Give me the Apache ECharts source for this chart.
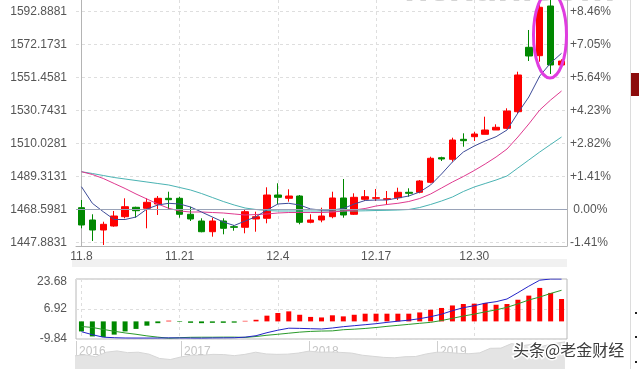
<!DOCTYPE html>
<html><head><meta charset="utf-8">
<script src="https://cdn.jsdelivr.net/npm/echarts@6/dist/echarts.min.js"></script>
<style>html,body{margin:0;padding:0;background:#fff}#c{width:639px;height:369px}</style>
</head><body><div id="c"></div>
<script>
const dates = ['11.8','11.11','11.12','11.13','11.14','11.15','11.18','11.19','11.20','11.21','11.22','11.25','11.26','11.27','11.28','11.29','12.2','12.3','12.4','12.5','12.6','12.9','12.10','12.11','12.12','12.13','12.16','12.17','12.18','12.19','12.20','12.23','12.24','12.25','12.26','12.27','12.30','12.31','1.1','1.2','1.3','1.6','1.7','1.8','1.9'];
// [open, close, low, high]
const candles = [
[1469.85,1458.99,1456.92,1474.68],[1462.13,1455.85,1448.95,1465.71],[1455.85,1459.43,1446.44,1461.06],
[1458.36,1464.64,1457.92,1467.78],[1464.20,1470.48,1463.20,1475.75],[1470.10,1467.97,1463.57,1470.48],
[1469.47,1473.24,1456.92,1475.75],[1472.17,1475.75,1465.27,1477.19],[1475.75,1474.87,1468.41,1479.89],
[1475.75,1465.71,1463.57,1476.75],[1465.71,1462.76,1461.50,1470.48],[1461.50,1454.78,1454.41,1463.20],
[1454.78,1461.50,1451.65,1463.57],[1461.50,1456.92,1453.15,1463.20],[1457.92,1457.55,1455.41,1458.99],
[1457.55,1467.34,1453.78,1468.41],[1462.76,1464.20,1454.78,1467.34],[1463.20,1477.82,1460.06,1482.65],
[1477.82,1476.38,1471.98,1485.17],[1475.75,1477.19,1473.62,1481.40],[1477.19,1460.69,1459.43,1477.82],
[1460.69,1462.13,1460.06,1465.71],[1462.13,1464.64,1460.69,1469.85],[1464.20,1475.94,1463.20,1479.89],
[1475.94,1465.27,1463.57,1487.86],[1465.71,1476.38,1465.27,1478.89],[1475.12,1476.75,1474.06,1480.96],
[1475.75,1476.13,1474.06,1481.59],[1475.12,1475.50,1471.54,1480.33],[1476.13,1479.52,1474.68,1482.40],
[1479.52,1478.89,1476.75,1482.03],[1479.52,1486.61,1478.89,1487.24],[1485.79,1500.86,1485.17,1501.86],
[1501.23,1500.42,1499.16,1501.86],[1500.23,1512.34,1498.72,1513.79],[1512.78,1511.91,1508.14,1516.55],
[1514.42,1516.11,1511.72,1517.55],[1515.92,1518.62,1515.92,1526.97],[1518.62,1520.32,1518.62,1522.20],
[1519.69,1530.55,1519.25,1532.24],[1530.11,1553.15,1529.10,1555.22],[1570.53,1565.07,1561.93,1581.39],
[1565.26,1595.64,1561.49,1607.76],[1596.46,1559.42,1553.77,1611.00],[1559.42,1561.93,1558.36,1563.00]
];
const ma5 = [1483.03,1472.61,1467.34,1462.44,1462.44,1464.01,1469.03,1471.54,1472.61,1472.17,1470.29,1467.15,1464.01,1460.87,1458.67,1461.50,1464.20,1468.40,1472.17,1472.61,1471.54,1469.03,1468.40,1468.40,1469.35,1472.17,1474.37,1474.68,1474.68,1475.94,1477.19,1479.70,1484.10,1491.00,1498.53,1504.81,1508.58,1511.71,1514.41,1518.62,1529.29,1539.33,1552.51,1560.67,1566.76];
const ma10 = [1492.44,1490.69,1488.18,1485.04,1481.90,1478.45,1475.31,1472.17,1469.47,1467.78,1467.15,1467.15,1466.83,1466.52,1465.89,1465.26,1465.58,1465.89,1466.52,1466.83,1466.83,1466.83,1466.83,1467.15,1467.78,1468.40,1469.35,1470.91,1471.86,1472.61,1473.74,1475.62,1478.45,1482.21,1485.98,1489.43,1493.20,1497.28,1501.67,1506.69,1514.22,1522.39,1531.17,1537.45,1543.10];
const ma20 = [1492.44,1491.31,1490.06,1488.80,1487.86,1486.92,1485.98,1485.04,1484.10,1482.53,1480.96,1478.76,1476.25,1473.74,1471.54,1469.66,1468.72,1468.09,1467.78,1467.78,1467.78,1467.78,1467.78,1467.78,1467.78,1467.78,1467.90,1468.09,1468.21,1468.40,1468.72,1469.97,1471.86,1474.05,1476.56,1480.01,1482.84,1485.04,1487.23,1489.75,1494.77,1499.79,1504.81,1509.52,1514.22];
const macdBar = [-5.6,-8.4,-8.7,-7.4,-5.6,-4.2,-2.4,-1.0,0.4,-0.3,-0.8,-1.0,-0.8,-0.8,-0.7,0.3,0.9,3.2,4.7,5.6,3.7,2.5,2.2,3.4,2.8,3.7,4.3,4.3,4.3,4.3,4.3,5.0,6.5,7.5,8.9,9.7,9.9,10.3,9.3,9.7,12.1,14.4,18.7,15.9,12.5];
const dif = [-5.76,-7.43,-8.83,-9.11,-9.28,-9.3,-9.3,-9.3,-9.2,-9.25,-9.3,-9.35,-9.25,-9.2,-9.15,-8.8,-8.0,-6.32,-4.92,-3.80,-3.91,-4.08,-4.25,-3.69,-2.96,-2.41,-1.85,-1.29,-0.56,0.11,0.67,1.51,2.62,4.02,5.97,7.65,8.77,10.16,11.00,12.51,16.03,19.66,23.01,23.68,23.68];
const dea = [-2.85,-3.4,-4.5,-5.5,-6.45,-7.2,-8.1,-8.8,-9.4,-9.1,-8.9,-8.85,-8.85,-8.8,-8.8,-8.95,-8.45,-7.75,-7.2,-6.6,-6.0,-5.6,-5.4,-5.3,-4.65,-4.35,-3.95,-3.42,-2.78,-2.22,-1.66,-1.08,-0.54,0.47,1.71,3.0,4.06,5.3,6.44,7.85,9.8,11.95,13.6,15.6,17.38];
const priceTicks = [1447.8831,1468.5981,1489.3131,1510.0281,1530.7431,1551.4581,1572.1731,1592.8881];
const pctLabels = ['-1.41%',' 0.00%','+1.41%','+2.82%','+4.23%','+5.64%','+7.05%','+8.46%'];
const macdTicks = [-9.84, 6.92, 23.68];
const baseLine = 1468.5981;
const dateGridIdx = [0, 9, 18, 27, 36];
const histMonths = ['2016-03','2016-04','2016-05','2016-06','2016-07','2016-08','2016-09','2016-10','2016-11','2016-12',
'2017-01','2017-02','2017-03','2017-04','2017-05','2017-06','2017-07','2017-08','2017-09','2017-10','2017-11','2017-12',
'2018-01','2018-02','2018-03','2018-04','2018-05','2018-06','2018-07','2018-08','2018-09','2018-10','2018-11','2018-12',
'2019-01','2019-02','2019-03','2019-04','2019-05','2019-06','2019-07','2019-08','2019-09','2019-10','2019-11','2019-12','2020-01'];
const histValues = [1235,1260,1215,1320,1350,1310,1320,1275,1175,1150,1210,1250,1250,1270,1265,1240,1270,1320,1280,1270,1275,1300,1345,1320,1325,1315,1300,1250,1225,1200,1190,1215,1220,1280,1320,1315,1295,1285,1305,1410,1415,1520,1470,1510,1465,1520,1560];
const yearTicks = [2016.18, 2017, 2018, 2019];

const FONT = 'Liberation Sans, Arial, sans-serif';
const dashed = {show:true, lineStyle:{color:'#dedede', type:[3,3], width:1}};
const histData = histMonths.map((m,i)=>{const [y,mo]=m.split('-').map(Number); return [y+(mo-1)/12, histValues[i]];});
const PMIN = 1445.81, PMAX = 1600.22;

const chart = echarts.init(document.getElementById('c'), null, {renderer:'canvas'});
chart.setOption({
  animation:false,
  backgroundColor:'#fff',
  textStyle:{fontFamily:FONT},
  grid:[
    {left:76, width:491, top:0, height:246},
    {left:76, width:491, top:279, height:60, show:true, borderColor:'#b8b8b8', borderWidth:1},
    {left:76, width:491, top:341, height:28}
  ],
  xAxis:[
    {type:'category', gridIndex:0, data:dates, boundaryGap:true,
     axisLine:{lineStyle:{color:'#b4b4b4'}}, axisTick:{show:false},
     axisLabel:{interval:8, color:'#555', fontSize:12, margin:5, fontFamily:FONT}, splitLine:{show:false}},
    {type:'value', gridIndex:0, min:-0.5, max:44.5, show:true, axisLine:{show:false}, axisLabel:{show:false},
     axisTick:{show:false, customValues:dateGridIdx}, splitLine:dashed},
    {type:'category', gridIndex:1, data:dates, boundaryGap:true, axisLine:{show:false}, axisTick:{show:false},
     axisLabel:{show:false}, splitLine:{show:false}},
    {type:'value', gridIndex:1, min:-0.5, max:44.5, axisLine:{show:false}, axisLabel:{show:false},
     axisTick:{show:false, customValues:dateGridIdx}, splitLine:dashed},
    {type:'value', gridIndex:2, min:2016.18, max:2020.016, position:'top',
     axisLine:{show:false}, axisTick:{show:false, customValues:yearTicks},
     axisLabel:{inside:true, customValues:yearTicks, formatter:v=>String(Math.floor(v)), color:'#c4c4c4', fontSize:12, align:'left', padding:[0,0,0,3], margin:5, fontFamily:FONT},
     splitLine:{show:true, lineStyle:{color:'#cfcfcf', width:1}}}
  ],
  yAxis:[
    {type:'value', gridIndex:0, min:PMIN, max:PMAX, position:'left',
     axisLine:{show:true, lineStyle:{color:'#b4b4b4'}}, axisTick:{show:false, customValues:priceTicks},
     axisLabel:{customValues:priceTicks, formatter:v=>v.toFixed(4), color:'#555', fontSize:12, margin:9, fontFamily:FONT},
     splitLine:dashed},
    {type:'value', gridIndex:0, min:PMIN, max:PMAX, position:'right',
     axisLine:{show:true, lineStyle:{color:'#b4b4b4'}}, axisTick:{show:false, customValues:priceTicks},
     axisLabel:{customValues:priceTicks, formatter:v=>{let k=0,b=1e9;priceTicks.forEach((t,i)=>{if(Math.abs(t-v)<b){b=Math.abs(t-v);k=i;}});return pctLabels[k];}, color:'#555', fontSize:12, margin:3, fontFamily:FONT},
     splitLine:{show:false}},
    {type:'value', gridIndex:1, min:-9.84, max:23.68,
     axisLine:{show:false}, axisTick:{show:false, customValues:macdTicks},
     axisLabel:{customValues:macdTicks, formatter:v=>(Math.abs(v-23.68)<1e-6?'{t|23.68}':v.toFixed(2)), color:'#555', fontSize:12, margin:9, fontFamily:FONT,
       rich:{t:{padding:[6,0,0,0], color:'#555', fontSize:12, fontFamily:FONT}}},
     splitLine:dashed},
    {type:'value', gridIndex:2, min:930, max:1580, show:false, axisLine:{show:true}, splitLine:{show:false}}
  ],
  series:[
    {type:'candlestick', xAxisIndex:0, yAxisIndex:0, data:candles, barWidth:7, clip:true,
     itemStyle:{color:'#ff0000', color0:'#008800', borderColor:'#ff0000', borderColor0:'#008800', borderWidth:1},
     markLine:{silent:true, symbol:['none','none'], label:{show:false}, lineStyle:{color:'#9aa3b8', type:'solid', width:1}, data:[{yAxis:baseLine}]}},
    {type:'line', xAxisIndex:0, yAxisIndex:0, data:ma20, symbol:'none', lineStyle:{color:'#4ab3b3', width:1}},
    {type:'line', xAxisIndex:0, yAxisIndex:0, data:ma10, symbol:'none', lineStyle:{color:'#df3a90', width:1}},
    {type:'line', xAxisIndex:0, yAxisIndex:0, data:ma5, symbol:'none', lineStyle:{color:'#3d4b98', width:1}},
    {type:'bar', xAxisIndex:2, yAxisIndex:2, data:macdBar, barWidth:5,
     itemStyle:{color:p=>p.value>=0?'#ff0000':'#008800'}},
    {type:'line', xAxisIndex:2, yAxisIndex:2, data:dea, symbol:'none', lineStyle:{color:'#2a9a2a', width:1}},
    {type:'line', xAxisIndex:2, yAxisIndex:2, data:dif, symbol:'none', lineStyle:{color:'#2323c8', width:1}},
    {type:'line', xAxisIndex:4, yAxisIndex:3, data:histData, symbol:'none', clip:true,
     lineStyle:{color:'#d6d6d6', width:1}, areaStyle:{color:'#e4e4e4', opacity:1}}
  ],
  graphic:[
    {type:'rect', z:-10, shape:{x:72, y:259, width:495, height:8}, style:{fill:'#f1f1f1'}},
    {type:'text', z:-5, x:404, y:10, style:{text:'hexun.com', font:'bold 40px Arial', fill:'#d4d4d4', textAlign:'left', textVerticalAlign:'bottom'}},
    {type:'ellipse', z:100, shape:{cx:550, cy:35, rx:16.5, ry:43}, style:{fill:'none', stroke:'#e03ce0', lineWidth:3}},
    {type:'line', shape:{x1:630.5, y1:0, x2:630.5, y2:369}, style:{stroke:'#dcdcdc', lineWidth:1}},
    {type:'rect', shape:{x:631, y:73, width:8, height:23}, style:{fill:'#8c0c0c'}},
    {type:'rect', shape:{x:635, y:312, width:2, height:2}, style:{fill:'#222'}},
    {type:'rect', shape:{x:635, y:336, width:2, height:2}, style:{fill:'#222'}},
    {type:'rect', shape:{x:635, y:361, width:2, height:2}, style:{fill:'#222'}},
    {type:'text', z:100, x:513, y:350, style:{text:'头条@老金财经', font:'16px "Noto Sans CJK SC"', fill:'#3c3c3c', stroke:'#ffffff', lineWidth:3, textAlign:'left', textVerticalAlign:'middle'}}
  ]
});
</script></body></html>
